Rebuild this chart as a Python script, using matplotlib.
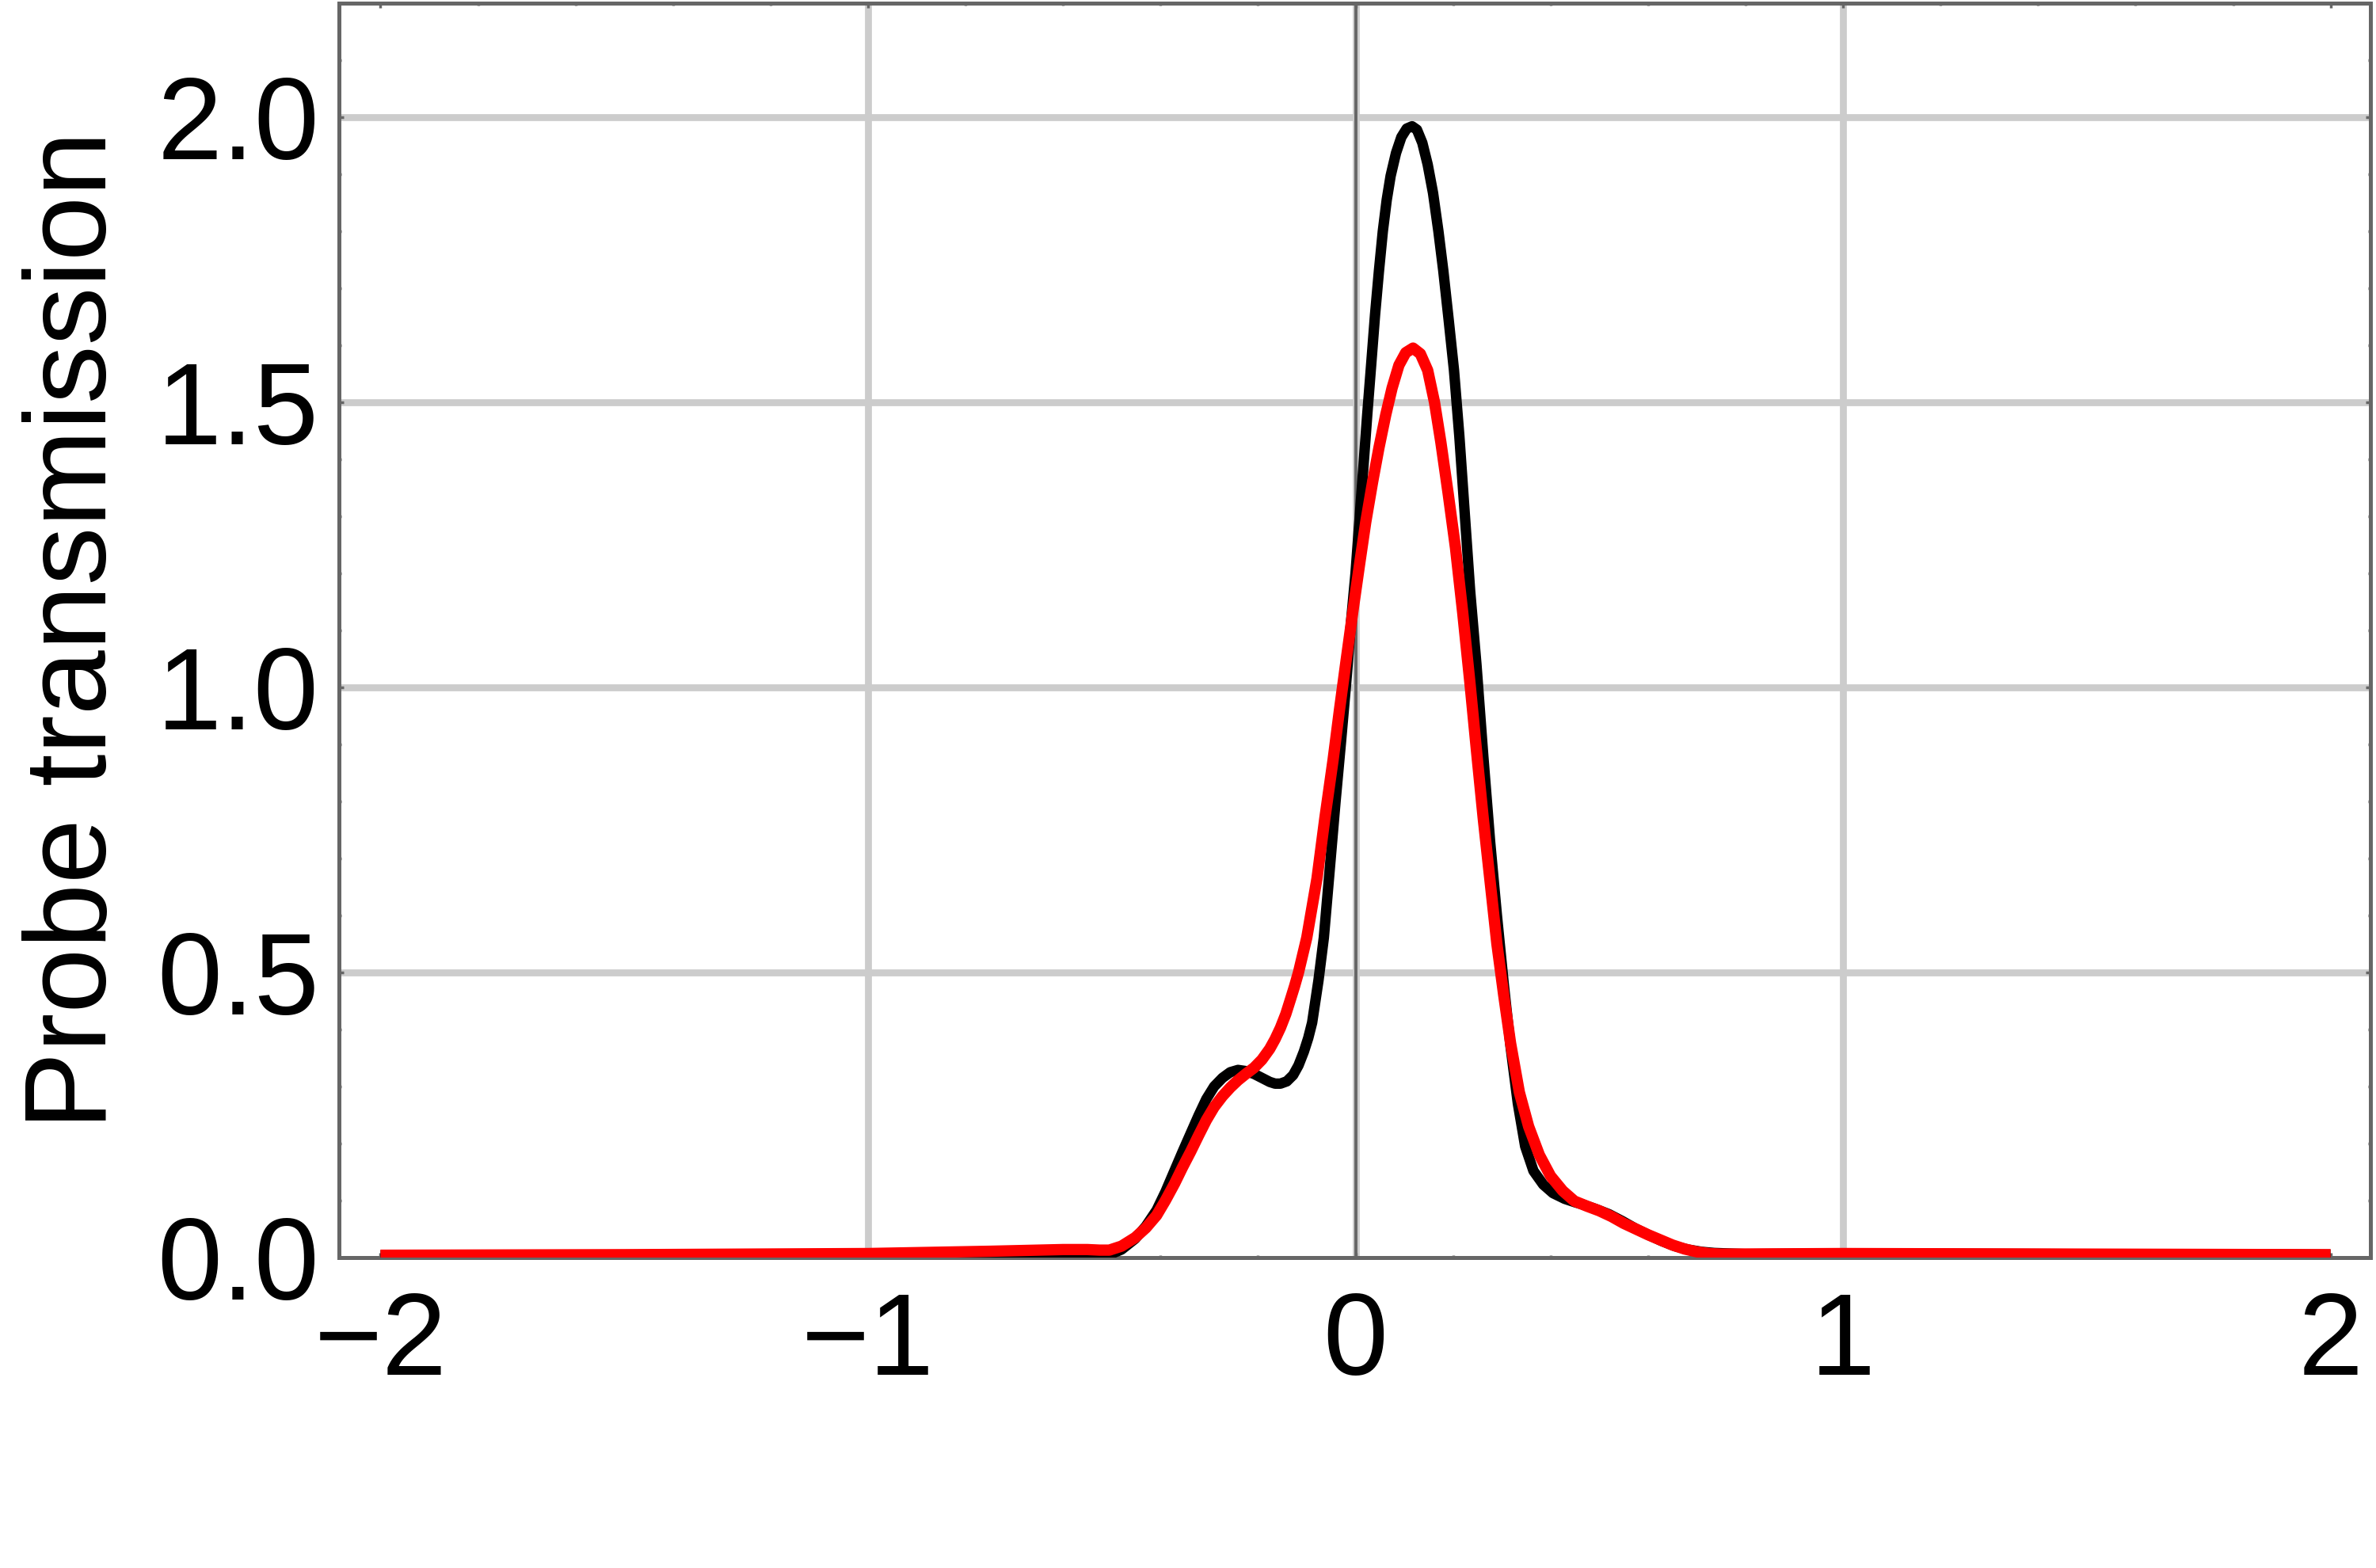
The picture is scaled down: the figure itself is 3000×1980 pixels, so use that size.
import numpy as np
import matplotlib
matplotlib.use("Agg")
import matplotlib.pyplot as plt
from matplotlib.ticker import MultipleLocator

# --- Data (detuning vs. probe transmission) ---
black_x = [-2.0, -1.5, -1.0, -0.8, -0.65, -0.55, -0.505, -0.48, -0.452, -0.43,
           -0.408, -0.39, -0.371, -0.355, -0.338, -0.322, -0.306, -0.290, -0.273,
           -0.257, -0.241, -0.225, -0.208, -0.192, -0.176, -0.165, -0.154, -0.141,
           -0.128, -0.117, -0.106, -0.097, -0.089, -0.076, -0.065, -0.052, -0.041,
           -0.030, -0.019, -0.009, 0.000, 0.008, 0.016, 0.024, 0.032, 0.040,
           0.048, 0.056, 0.064, 0.072, 0.083, 0.094, 0.105, 0.116, 0.126, 0.137,
           0.148, 0.159, 0.170, 0.180, 0.191, 0.202, 0.213, 0.224, 0.235, 0.248,
           0.262, 0.276, 0.290, 0.304, 0.318, 0.333, 0.348, 0.365, 0.385, 0.405,
           0.429, 0.450, 0.466, 0.493, 0.520, 0.547, 0.574, 0.600, 0.628, 0.655,
           0.682, 0.710, 0.736, 0.80, 1.0, 1.5, 2.0]
black_y = [0.004, 0.004, 0.005, 0.006, 0.007, 0.004, 0.005, 0.014, 0.033, 0.055,
           0.083, 0.115, 0.153, 0.185, 0.218, 0.249, 0.278, 0.300, 0.315,
           0.325, 0.329, 0.327, 0.322, 0.315, 0.308, 0.305, 0.305, 0.309,
           0.320, 0.337, 0.361, 0.385, 0.412, 0.486, 0.561, 0.690, 0.800,
           0.903, 1.010, 1.117, 1.200, 1.292, 1.385, 1.478, 1.565, 1.653,
           1.730, 1.800, 1.855, 1.897, 1.937, 1.965, 1.980, 1.984, 1.978, 1.955,
           1.917, 1.867, 1.800, 1.731, 1.645, 1.556, 1.440, 1.305, 1.170, 1.040,
           0.880, 0.730, 0.600, 0.480, 0.370, 0.270, 0.195, 0.152, 0.128, 0.113,
           0.103, 0.097, 0.093, 0.085, 0.076, 0.064, 0.051, 0.040, 0.029, 0.020,
           0.014, 0.010, 0.008, 0.006, 0.007, 0.006, 0.005]

red_x = [-2.0, -1.5, -1.0, -0.75, -0.6, -0.55, -0.525, -0.505, -0.48, -0.452,
         -0.43, -0.408, -0.39, -0.371, -0.355, -0.338, -0.322, -0.306, -0.290,
         -0.273, -0.257, -0.241, -0.225, -0.208, -0.192, -0.176, -0.165, -0.154,
         -0.143, -0.133, -0.125, -0.117, -0.100, -0.079, -0.063, -0.046, -0.033,
         -0.019, -0.006, 0.008, 0.021, 0.035, 0.048, 0.062, 0.075, 0.089, 0.103,
         0.118, 0.133, 0.148, 0.162, 0.175, 0.190, 0.205, 0.220, 0.235, 0.248,
         0.262, 0.276, 0.290, 0.304, 0.318, 0.336, 0.355, 0.377, 0.400, 0.425,
         0.449, 0.475, 0.500, 0.525, 0.550, 0.575, 0.600, 0.625, 0.650, 0.675,
         0.700, 0.725, 0.750, 1.0, 1.5, 2.0]
red_y = [0.004, 0.005, 0.007, 0.011, 0.014, 0.014, 0.013, 0.013, 0.020, 0.035,
         0.052, 0.074, 0.100, 0.130, 0.158, 0.186, 0.214, 0.241, 0.264,
         0.283, 0.298, 0.311, 0.322, 0.333, 0.347, 0.366, 0.383, 0.403,
         0.427, 0.454, 0.476, 0.500, 0.561, 0.665, 0.770, 0.873, 0.960,
         1.049, 1.130, 1.214, 1.290, 1.360, 1.420, 1.478, 1.525, 1.565, 1.587,
         1.595, 1.585, 1.556, 1.500, 1.430, 1.340, 1.245, 1.130, 1.005, 0.890,
         0.770, 0.660, 0.550, 0.460, 0.376, 0.290, 0.230, 0.180, 0.143, 0.117,
         0.099, 0.090, 0.082, 0.072, 0.060, 0.050, 0.040, 0.031, 0.022, 0.015,
         0.010, 0.007, 0.006, 0.007, 0.006, 0.005]

x_ticks = [-2, -1, 0, 1, 2]
x_tick_labels = ["\u22122", "\u22121", "0", "1", "2"]
y_ticks = [0.0, 0.5, 1.0, 1.5, 2.0]
y_tick_labels = ["0.0", "0.5", "1.0", "1.5", "2.0"]
x_grid = [-1, 0, 1]
y_grid = [0.5, 1.0, 1.5, 2.0]

FRAME = "#666666"
GRID = "#cccccc"


def main():
    plt.rcParams["font.family"] = ["Liberation Sans", "DejaVu Sans"]
    fig = plt.figure(figsize=(30, 19.8), dpi=100)
    ax = fig.add_axes([0.1427, 0.198, 0.9977 - 0.1427, 0.998 - 0.198])

    # grid lines and the zero axis, Mathematica style
    for gx in x_grid:
        ax.axvline(gx, color=GRID, linewidth=6.3, zorder=1)
    for gy in y_grid:
        ax.axhline(gy, color=GRID, linewidth=6.3, zorder=1)
    ax.axvline(0, color=FRAME, linewidth=2.8, zorder=2)

    ax.plot(black_x, black_y, color="black", linewidth=9.5, zorder=3,
            solid_joinstyle="round", solid_capstyle="butt")
    ax.plot(red_x, red_y, color="red", linewidth=10.3, zorder=4,
            solid_joinstyle="round", solid_capstyle="butt")

    ax.set_xlim(-2.085, 2.082)
    ax.set_ylim(0, 2.2)

    ax.set_xticks(x_ticks)
    ax.set_xticklabels(x_tick_labels)
    ax.set_yticks(y_ticks)
    ax.set_yticklabels(y_tick_labels)
    ax.xaxis.set_minor_locator(MultipleLocator(0.2))
    ax.yaxis.set_minor_locator(MultipleLocator(0.1))
    ax.tick_params(which="both", direction="in", color=FRAME, width=2.5,
                   top=True, right=True, labelsize=106)
    ax.tick_params(which="major", length=4)
    ax.tick_params(which="minor", length=2.5)
    ax.tick_params(axis="y", which="major", pad=18)
    ax.tick_params(axis="x", which="major", pad=30)

    for spine in ax.spines.values():
        spine.set_color(FRAME)
        spine.set_linewidth(3.6)

    ax.set_ylabel("Probe transmission", fontsize=106, labelpad=25)

    fig.savefig("out.png", dpi=100, facecolor="white")
    plt.close(fig)


if __name__ == "__main__":
    main()
